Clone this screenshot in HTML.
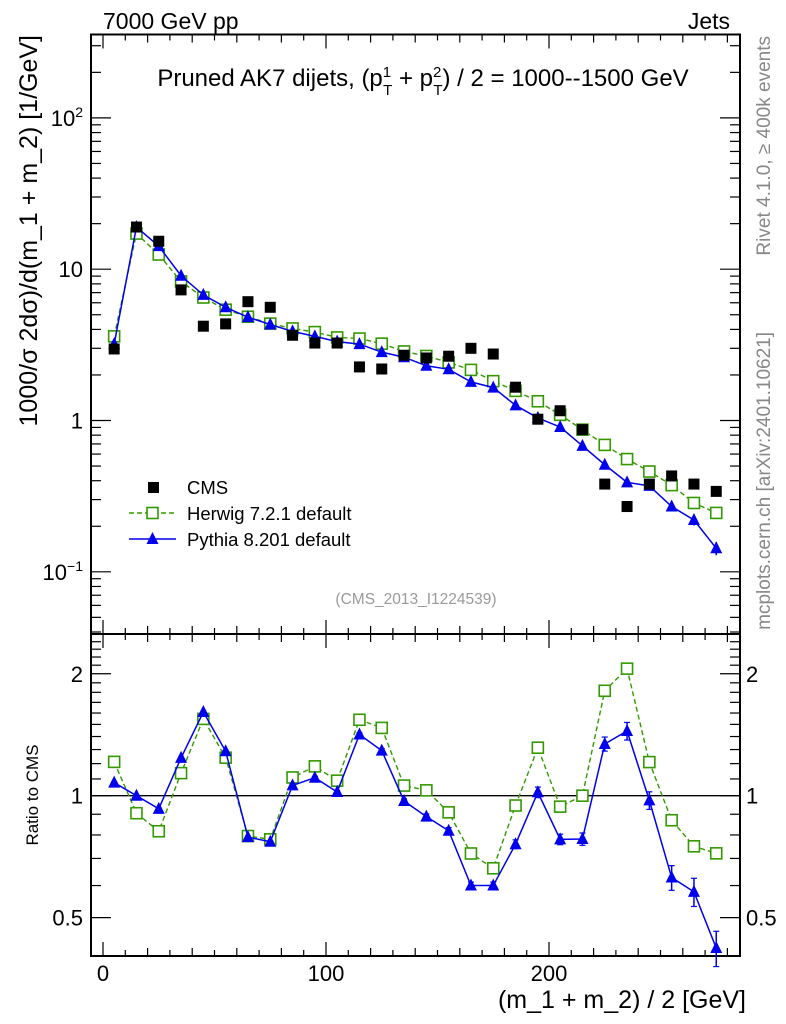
<!DOCTYPE html>
<html><head><meta charset="utf-8"><style>
html,body{margin:0;padding:0;background:#fff;}
svg{display:block;font-family:"Liberation Sans",sans-serif;}
</style></head><body>
<svg id="c" width="786" height="1024" viewBox="0 0 786 1024"></svg>
<script>
const xcenters=[5,15,25,35,45,55,65,75,85,95,105,115,125,135,145,155,165,175,185,195,205,215,225,235,245,255,265,275];
const cmsVals=[2.97,19,15.3,7.3,4.2,4.35,6.1,5.6,3.66,3.25,3.25,2.26,2.19,2.7,2.59,2.66,3.0,2.75,1.66,1.02,1.16,0.87,0.38,0.27,0.38,0.43,0.38,0.34];
const herwigVals=[3.6,17.2,12.5,8.3,6.5,5.4,4.85,4.37,4.06,3.84,3.54,3.48,3.22,2.86,2.67,2.42,2.16,1.82,1.57,1.34,1.09,0.87,0.69,0.556,0.46,0.374,0.285,0.245];
const pythiaVals=[3.2,19,14.2,9.05,6.76,5.6,4.82,4.31,3.88,3.6,3.32,3.2,2.83,2.62,2.3,2.18,1.8,1.65,1.26,1.04,0.905,0.68,0.51,0.39,0.37,0.27,0.22,0.143];
const pythiaRelErr=[0.005,0.005,0.005,0.005,0.005,0.005,0.005,0.005,0.008,0.008,0.008,0.01,0.012,0.012,0.015,0.018,0.02,0.02,0.025,0.03,0.03,0.035,0.04,0.05,0.05,0.07,0.08,0.1];
const ratioTicks=[0.5,1,2];
const xTicks=[0,100,200];

const S=document.getElementById('c'),NS='http://www.w3.org/2000/svg';
function el(t,a,p){const e=document.createElementNS(NS,t);for(const k in a)e.setAttribute(k,a[k]);(p||S).appendChild(e);return e;}
const L=91,R=740,T=34.5,M=634,B=956;
const X=v=>103+v*2.23;
const Y=v=>420.5-151.3*Math.log10(v);
const YR=v=>795.7-405*Math.log10(v);

let f=el('rect',{x:L,y:T,width:R-L,height:M-T,fill:'none',stroke:'#000','stroke-width':2});

f=el('rect',{x:L,y:M,width:R-L,height:B-M,fill:'none',stroke:'#000','stroke-width':2});


const gx=el('g',{stroke:'#000','stroke-width':1.2});

for(let v=0;v<=280;v+=10){const x=X(v);const len=v%100===0?14:(v%20===0?8:6);
 [[T,1],[M,-1],[M,1],[B,-1]].forEach(([y0,d])=>el('line',{x1:x,x2:x,y1:y0,y2:y0+d*len},gx));}
const gy=el('g',{stroke:'#000','stroke-width':1.2});

for(let e=-2;e<=2;e++)for(let m=1;m<=9;m++){const v=m*Math.pow(10,e);const y=Y(v);if(y<T||y>M)continue;
 const len=m===1?20:10;el('line',{x1:L,x2:L+len,y1:y,y2:y},gy);el('line',{x1:R,x2:R-len,y1:y,y2:y},gy);}
for(let v=0.4;v<=2.5;v+=0.1){const y=YR(v);if(y<M||y>B)continue;const maj=ratioTicks.some(t=>Math.abs(t-v)<1e-6);
 const len=maj?20:10;el('line',{x1:L,x2:L+len,y1:y,y2:y},gy);el('line',{x1:R,x2:R-len,y1:y,y2:y},gy);}

function txt(s,a,name){const t=el('text',a);t.textContent=s;return t;}
const decLab=[[100,'2'],[10,null],[1,null],[0.1,'−1']];
decLab.forEach(([v,ex])=>{const y=Y(v);
 if(ex){const t=el('text',{x:L-8,y:y+8,'text-anchor':'end','font-size':22});
  t.innerHTML='10<tspan dy="-9" font-size="14">'+ex+'</tspan>';}
 else txt(String(v),{x:L-8,y:y+8,'text-anchor':'end','font-size':22},'y-tick-label');});
ratioTicks.forEach(v=>{const y=YR(v);
 txt(String(v),{x:L-8,y:y+8,'text-anchor':'end','font-size':22},'ratio-tick-label');
 txt(String(v),{x:R+6,y:y+8,'text-anchor':'start','font-size':22},'ratio-tick-label-right');});
xTicks.forEach(v=>txt(String(v),{x:X(v),y:981,'text-anchor':'middle','font-size':22},'x-tick-label'));

txt('7000 GeV pp',{x:103,y:29,'font-size':23},'energy-label');
txt('Jets',{x:730,y:29,'font-size':23,'text-anchor':'end'},'process-label');
let tt=el('text',{x:423,y:86,'font-size':24,'text-anchor':'middle'});

tt.innerHTML='Pruned AK7 dijets, (p<tspan font-size="15" dy="-9">1</tspan><tspan font-size="15" dx="-8" dy="18">T</tspan><tspan dy="-9"> + p</tspan><tspan font-size="15" dy="-9">2</tspan><tspan font-size="15" dx="-8" dy="18">T</tspan><tspan dy="-9">) / 2 = 1000--1500 GeV</tspan>';
txt('1000/σ   2dσ)/d(m_1 + m_2) [1/GeV]',{x:0,y:0,'font-size':25,'text-anchor':'end',transform:'translate(37,35) rotate(-90)'},'y-axis-title');
txt('Ratio to CMS',{x:0,y:0,'font-size':17,'text-anchor':'middle',transform:'translate(38,795) rotate(-90)'},'ratio-axis-title');
txt('(m_1 + m_2) / 2 [GeV]',{x:746,y:1008,'font-size':25,'text-anchor':'end'},'x-axis-title');
txt('Rivet 4.1.0, ≥ 400k events',{x:0,y:0,'font-size':19,fill:'#888','text-anchor':'end',transform:'translate(770,36) rotate(-90)'},'rivet-version-label');
txt('mcplots.cern.ch [arXiv:2401.10621]',{x:0,y:0,'font-size':19,fill:'#888','text-anchor':'end',transform:'translate(770,332) rotate(-90)'},'mcplots-label');
txt('(CMS_2013_I1224539)',{x:416,y:604,'font-size':15.5,fill:'#999','text-anchor':'middle'},'analysis-id');

let rl=el('line',{x1:L,x2:R,y1:YR(1),y2:YR(1),stroke:'#000','stroke-width':1.3});


const G='#339900',BL='#0000ee';
function sq(x,y,g,name){const r=el('rect',{x:x-5.5,y:y-5.5,width:11,height:11,fill:'#fff',stroke:G,'stroke-width':1.6},g);}
function tri(x,y,g,name){const p=el('polygon',{points:`${x},${y-7} ${x-6},${y+5} ${x+6},${y+5}`,fill:BL},g);}

const gh=el('g',{});
el('polyline',{points:xcenters.map((x,i)=>X(x)+','+Y(herwigVals[i])).join(' '),fill:'none',stroke:G,'stroke-width':1.4,'stroke-dasharray':'5,3'},gh);
xcenters.forEach((x,i)=>sq(X(x),Y(herwigVals[i]),gh,'herwig-point'));
const gp=el('g',{});
el('polyline',{points:xcenters.map((x,i)=>X(x)+','+Y(pythiaVals[i])).join(' '),fill:'none',stroke:BL,'stroke-width':1.5},gp);
xcenters.forEach((x,i)=>{const v=pythiaVals[i],e=pythiaRelErr[i]*v;
 el('line',{x1:X(x),x2:X(x),y1:Y(v+e),y2:Y(v-e),stroke:BL,'stroke-width':1.5},gp);
 tri(X(x),Y(v),gp,'pythia-point');});
const gc=el('g',{});
xcenters.forEach((x,i)=>{const r=el('rect',{x:X(x)-5.5,y:Y(cmsVals[i])-5.5,width:11,height:11,fill:'#000'},gc);
 });

const grh=el('g',{});
el('polyline',{points:xcenters.map((x,i)=>X(x)+','+YR(herwigVals[i]/cmsVals[i])).join(' '),fill:'none',stroke:G,'stroke-width':1.4,'stroke-dasharray':'5,3'},grh);
xcenters.forEach((x,i)=>sq(X(x),YR(herwigVals[i]/cmsVals[i]),grh,'herwig-ratio-point'));
const grp=el('g',{});
el('polyline',{points:xcenters.map((x,i)=>X(x)+','+YR(pythiaVals[i]/cmsVals[i])).join(' '),fill:'none',stroke:BL,'stroke-width':1.5},grp);
xcenters.forEach((x,i)=>{const r=pythiaVals[i]/cmsVals[i],e=pythiaRelErr[i]*r;
 el('line',{x1:X(x),x2:X(x),y1:YR(r+e),y2:YR(r-e),stroke:BL,'stroke-width':1.5},grp);
 el('line',{x1:X(x)-3,x2:X(x)+3,y1:YR(r+e),y2:YR(r+e),stroke:BL,'stroke-width':1.2},grp);
 el('line',{x1:X(x)-3,x2:X(x)+3,y1:YR(r-e),y2:YR(r-e),stroke:BL,'stroke-width':1.2},grp);
 tri(X(x),YR(r),grp,'pythia-ratio-point');});

const lg=el('g',{});
let lr=el('rect',{x:148,y:482,width:11,height:11,fill:'#000'},lg);
let t1=el('text',{x:187,y:494,'font-size':18.5},lg);t1.textContent='CMS';
el('line',{x1:129,x2:176,y1:513,y2:513,stroke:G,'stroke-width':1.4,'stroke-dasharray':'5,3'},lg);
sq(152.5,513,lg,'legend-herwig-marker');
let t2=el('text',{x:187,y:520,'font-size':18.5},lg);t2.textContent='Herwig 7.2.1 default';
el('line',{x1:129,x2:176,y1:539,y2:539,stroke:BL,'stroke-width':1.5},lg);
tri(152.5,539,lg,'legend-pythia-marker');
let t3=el('text',{x:187,y:546,'font-size':18.5},lg);t3.textContent='Pythia 8.201 default';
</script>
</body></html>
